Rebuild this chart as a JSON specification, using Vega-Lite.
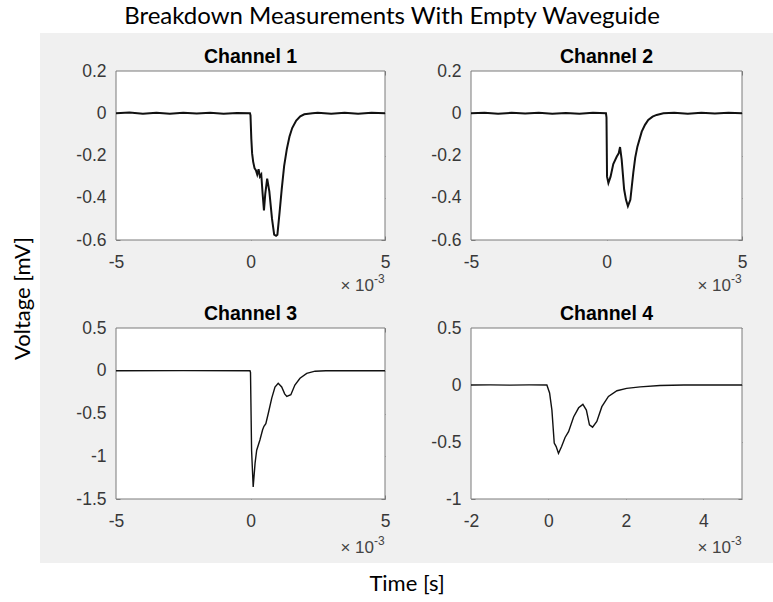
{
  "$schema": "https://vega.github.io/schema/vega-lite/v6.json",
  "width": 733,
  "height": 530,
  "autosize": {"type": "none"},
  "padding": {"left": 40, "top": 33, "right": 0, "bottom": 39},
  "background": "white",
  "view": {"fill": "#f0f0f0", "stroke": null},
  "title": {"text": "Breakdown Measurements With Empty Waveguide", "font": "Lato", "fontSize": 24, "fontWeight": "normal", "color": "#000000", "anchor": "middle", "frame": "bounds", "offset": 4},
  "config": {
    "axis": {"grid": false, "domain": false, "labelFont": "Liberation Sans", "labelFontSize": 17.5, "labelColor": "#383838", "tickColor": "#7a7a7a", "tickSize": -4, "tickWidth": 1, "labelFlush": false, "labelOverlap": false, "zindex": 1, "labelExpr": "'' + datum.value"}
  },
  "datasets": {
    "panels": [
      {"panel": "Channel 1", "xmin": -5, "xmax": 5, "ymin": -0.6, "ymax": 0.2, "mult": "× 10", "pow": "-3"},
      {"panel": "Channel 2", "xmin": -5, "xmax": 5, "ymin": -0.6, "ymax": 0.2, "mult": "× 10", "pow": "-3"},
      {"panel": "Channel 3", "xmin": -5, "xmax": 5, "ymin": -1.5, "ymax": 0.5, "mult": "× 10", "pow": "-3"},
      {"panel": "Channel 4", "xmin": -2, "xmax": 5, "ymin": -1, "ymax": 0.5, "mult": "× 10", "pow": "-3"}
    ],
    "signals": [
      {"ch": "Channel 1", "t": -5, "v": 0}, {"ch": "Channel 1", "t": -4.5, "v": 0.003}, {"ch": "Channel 1", "t": -4, "v": -0.002}, {"ch": "Channel 1", "t": -3.5, "v": 0.002}, {"ch": "Channel 1", "t": -3, "v": -0.002}, {"ch": "Channel 1", "t": -2.5, "v": 0.002}, {"ch": "Channel 1", "t": -2, "v": -0.001}, {"ch": "Channel 1", "t": -1.5, "v": 0.002}, {"ch": "Channel 1", "t": -1, "v": -0.002}, {"ch": "Channel 1", "t": -0.5, "v": 0.001}, {"ch": "Channel 1", "t": -0.02, "v": 0}, {"ch": "Channel 1", "t": 0, "v": -0.01}, {"ch": "Channel 1", "t": 0.03, "v": -0.12}, {"ch": "Channel 1", "t": 0.06, "v": -0.19}, {"ch": "Channel 1", "t": 0.1, "v": -0.23}, {"ch": "Channel 1", "t": 0.15, "v": -0.26}, {"ch": "Channel 1", "t": 0.2, "v": -0.27}, {"ch": "Channel 1", "t": 0.25, "v": -0.29}, {"ch": "Channel 1", "t": 0.3, "v": -0.265}, {"ch": "Channel 1", "t": 0.35, "v": -0.3}, {"ch": "Channel 1", "t": 0.4, "v": -0.29}, {"ch": "Channel 1", "t": 0.45, "v": -0.38}, {"ch": "Channel 1", "t": 0.5, "v": -0.46}, {"ch": "Channel 1", "t": 0.55, "v": -0.38}, {"ch": "Channel 1", "t": 0.62, "v": -0.31}, {"ch": "Channel 1", "t": 0.7, "v": -0.37}, {"ch": "Channel 1", "t": 0.8, "v": -0.5}, {"ch": "Channel 1", "t": 0.88, "v": -0.575}, {"ch": "Channel 1", "t": 0.95, "v": -0.58}, {"ch": "Channel 1", "t": 1.0, "v": -0.575}, {"ch": "Channel 1", "t": 1.08, "v": -0.47}, {"ch": "Channel 1", "t": 1.16, "v": -0.36}, {"ch": "Channel 1", "t": 1.25, "v": -0.25}, {"ch": "Channel 1", "t": 1.35, "v": -0.17}, {"ch": "Channel 1", "t": 1.45, "v": -0.11}, {"ch": "Channel 1", "t": 1.55, "v": -0.07}, {"ch": "Channel 1", "t": 1.7, "v": -0.035}, {"ch": "Channel 1", "t": 1.85, "v": -0.015}, {"ch": "Channel 1", "t": 2.0, "v": -0.005}, {"ch": "Channel 1", "t": 2.3, "v": 0}, {"ch": "Channel 1", "t": 2.5, "v": 0.002}, {"ch": "Channel 1", "t": 3, "v": -0.002}, {"ch": "Channel 1", "t": 3.5, "v": 0.002}, {"ch": "Channel 1", "t": 4, "v": -0.002}, {"ch": "Channel 1", "t": 4.5, "v": 0.002}, {"ch": "Channel 1", "t": 5, "v": 0},
      {"ch": "Channel 2", "t": -5, "v": 0}, {"ch": "Channel 2", "t": -4.5, "v": 0.002}, {"ch": "Channel 2", "t": -4, "v": -0.002}, {"ch": "Channel 2", "t": -3.5, "v": 0.002}, {"ch": "Channel 2", "t": -3, "v": -0.001}, {"ch": "Channel 2", "t": -2.5, "v": 0.002}, {"ch": "Channel 2", "t": -2, "v": -0.002}, {"ch": "Channel 2", "t": -1.5, "v": 0.001}, {"ch": "Channel 2", "t": -1, "v": -0.002}, {"ch": "Channel 2", "t": -0.5, "v": 0.002}, {"ch": "Channel 2", "t": -0.02, "v": 0}, {"ch": "Channel 2", "t": 0, "v": -0.02}, {"ch": "Channel 2", "t": 0.02, "v": -0.3}, {"ch": "Channel 2", "t": 0.07, "v": -0.33}, {"ch": "Channel 2", "t": 0.15, "v": -0.3}, {"ch": "Channel 2", "t": 0.25, "v": -0.24}, {"ch": "Channel 2", "t": 0.38, "v": -0.205}, {"ch": "Channel 2", "t": 0.45, "v": -0.19}, {"ch": "Channel 2", "t": 0.5, "v": -0.16}, {"ch": "Channel 2", "t": 0.56, "v": -0.22}, {"ch": "Channel 2", "t": 0.65, "v": -0.36}, {"ch": "Channel 2", "t": 0.72, "v": -0.41}, {"ch": "Channel 2", "t": 0.79, "v": -0.44}, {"ch": "Channel 2", "t": 0.88, "v": -0.41}, {"ch": "Channel 2", "t": 0.99, "v": -0.28}, {"ch": "Channel 2", "t": 1.06, "v": -0.21}, {"ch": "Channel 2", "t": 1.14, "v": -0.158}, {"ch": "Channel 2", "t": 1.3, "v": -0.087}, {"ch": "Channel 2", "t": 1.42, "v": -0.055}, {"ch": "Channel 2", "t": 1.54, "v": -0.032}, {"ch": "Channel 2", "t": 1.7, "v": -0.016}, {"ch": "Channel 2", "t": 1.85, "v": -0.008}, {"ch": "Channel 2", "t": 2.1, "v": 0}, {"ch": "Channel 2", "t": 2.5, "v": 0.002}, {"ch": "Channel 2", "t": 3, "v": -0.002}, {"ch": "Channel 2", "t": 3.5, "v": 0.002}, {"ch": "Channel 2", "t": 4, "v": -0.001}, {"ch": "Channel 2", "t": 4.5, "v": 0.002}, {"ch": "Channel 2", "t": 5, "v": 0},
      {"ch": "Channel 3", "t": -5, "v": 0}, {"ch": "Channel 3", "t": -2.5, "v": 0.001}, {"ch": "Channel 3", "t": -0.02, "v": 0}, {"ch": "Channel 3", "t": 0, "v": -0.02}, {"ch": "Channel 3", "t": 0.04, "v": -0.93}, {"ch": "Channel 3", "t": 0.1, "v": -1.36}, {"ch": "Channel 3", "t": 0.17, "v": -1.08}, {"ch": "Channel 3", "t": 0.23, "v": -0.93}, {"ch": "Channel 3", "t": 0.35, "v": -0.81}, {"ch": "Channel 3", "t": 0.45, "v": -0.69}, {"ch": "Channel 3", "t": 0.5, "v": -0.65}, {"ch": "Channel 3", "t": 0.57, "v": -0.62}, {"ch": "Channel 3", "t": 0.66, "v": -0.5}, {"ch": "Channel 3", "t": 0.79, "v": -0.32}, {"ch": "Channel 3", "t": 0.91, "v": -0.19}, {"ch": "Channel 3", "t": 1.03, "v": -0.147}, {"ch": "Channel 3", "t": 1.16, "v": -0.19}, {"ch": "Channel 3", "t": 1.27, "v": -0.27}, {"ch": "Channel 3", "t": 1.35, "v": -0.3}, {"ch": "Channel 3", "t": 1.5, "v": -0.28}, {"ch": "Channel 3", "t": 1.65, "v": -0.167}, {"ch": "Channel 3", "t": 1.84, "v": -0.088}, {"ch": "Channel 3", "t": 2.09, "v": -0.03}, {"ch": "Channel 3", "t": 2.4, "v": -0.005}, {"ch": "Channel 3", "t": 2.8, "v": 0}, {"ch": "Channel 3", "t": 5, "v": 0},
      {"ch": "Channel 4", "t": -2, "v": 0}, {"ch": "Channel 4", "t": -1.5, "v": 0.001}, {"ch": "Channel 4", "t": -1, "v": -0.001}, {"ch": "Channel 4", "t": -0.5, "v": 0.001}, {"ch": "Channel 4", "t": -0.04, "v": 0}, {"ch": "Channel 4", "t": 0.03, "v": -0.07}, {"ch": "Channel 4", "t": 0.09, "v": -0.22}, {"ch": "Channel 4", "t": 0.15, "v": -0.51}, {"ch": "Channel 4", "t": 0.2, "v": -0.54}, {"ch": "Channel 4", "t": 0.26, "v": -0.6}, {"ch": "Channel 4", "t": 0.34, "v": -0.54}, {"ch": "Channel 4", "t": 0.43, "v": -0.46}, {"ch": "Channel 4", "t": 0.52, "v": -0.41}, {"ch": "Channel 4", "t": 0.65, "v": -0.28}, {"ch": "Channel 4", "t": 0.78, "v": -0.2}, {"ch": "Channel 4", "t": 0.89, "v": -0.17}, {"ch": "Channel 4", "t": 0.98, "v": -0.22}, {"ch": "Channel 4", "t": 1.06, "v": -0.35}, {"ch": "Channel 4", "t": 1.14, "v": -0.37}, {"ch": "Channel 4", "t": 1.25, "v": -0.32}, {"ch": "Channel 4", "t": 1.38, "v": -0.19}, {"ch": "Channel 4", "t": 1.55, "v": -0.1}, {"ch": "Channel 4", "t": 1.77, "v": -0.05}, {"ch": "Channel 4", "t": 2.02, "v": -0.03}, {"ch": "Channel 4", "t": 2.37, "v": -0.016}, {"ch": "Channel 4", "t": 2.88, "v": -0.005}, {"ch": "Channel 4", "t": 3.5, "v": 0}, {"ch": "Channel 4", "t": 5, "v": 0}
    ]
  },
  "layer": [
    {
      "data": {"values": [{"note": "frame"}]},
      "mark": {"type": "point", "opacity": 0},
      "encoding": {
        "x": {"datum": 0.5, "type": "quantitative", "scale": {"domain": [0, 1]}, "axis": {"orient": "bottom", "title": "Time [s]", "labels": false, "ticks": false, "domain": false, "titleFont": "Lato", "titleFontSize": 22, "titleFontWeight": "normal", "titleColor": "#000000", "titlePadding": 10}},
        "y": {"datum": 0.5, "type": "quantitative", "scale": {"domain": [0, 1]}, "axis": {"orient": "left", "title": "Voltage [mV]", "labels": false, "ticks": false, "domain": false, "titleFont": "Lato", "titleFontSize": 22, "titleFontWeight": "normal", "titleColor": "#000000", "titlePadding": 6}}
      }
    },
    {
      "layer": [
        {
          "data": {"name": "panels"},
          "transform": [{"filter": "datum.panel === 'Channel 1'"}],
          "mark": {"type": "rect", "fill": "white", "stroke": "#7a7a7a", "strokeWidth": 1},
          "encoding": {
            "x": {"field": "xmin", "type": "quantitative", "scale": {"domain": [-5, 5], "range": [76, 345], "nice": false, "zero": false}, "axis": {"orient": "bottom", "offset": -323, "values": [-5, 0, 5], "title": null, "labelPadding": 17}},
            "x2": {"field": "xmax"},
            "y": {"field": "ymin", "type": "quantitative", "scale": {"domain": [-0.6, 0.2], "range": [207, 38], "nice": false, "zero": false}, "axis": {"orient": "left", "offset": -76, "values": [-0.6, -0.4, -0.2, 0, 0.2], "title": null, "labelPadding": 14}},
            "y2": {"field": "ymax"}
          }
        },
        {
          "data": {"name": "signals"},
          "transform": [{"filter": "datum.ch === 'Channel 1'"}],
          "mark": {"type": "line", "color": "#111111", "strokeWidth": 2},
          "encoding": {
            "x": {"field": "t", "type": "quantitative", "scale": {"domain": [-5, 5], "range": [76, 345], "nice": false, "zero": false}, "axis": {"orient": "top", "offset": -38, "values": [-5, 0, 5], "title": null, "labels": false}},
            "y": {"field": "v", "type": "quantitative", "scale": {"domain": [-0.6, 0.2], "range": [207, 38], "nice": false, "zero": false}, "axis": {"orient": "right", "offset": -388, "values": [-0.6, -0.4, -0.2, 0, 0.2], "title": null, "labels": false}}
          }
        },
        {
          "data": {"name": "panels"},
          "transform": [{"filter": "datum.panel === 'Channel 1'"}],
          "mark": {"type": "text", "font": "Liberation Sans", "fontWeight": "bold", "fontSize": 19.5, "color": "#000000", "baseline": "middle", "dy": -14},
          "encoding": {
            "x": {"datum": 0, "type": "quantitative", "scale": {"domain": [-5, 5], "range": [76, 345], "nice": false, "zero": false}, "axis": null},
            "y": {"field": "ymax", "type": "quantitative", "scale": {"domain": [-0.6, 0.2], "range": [207, 38], "nice": false, "zero": false}, "axis": null},
            "text": {"field": "panel"}
          }
        },
        {
          "data": {"name": "panels"},
          "transform": [{"filter": "datum.panel === 'Channel 1'"}],
          "mark": {"type": "text", "font": "Liberation Sans", "fontSize": 17, "color": "#444444", "baseline": "middle", "align": "right", "dx": -11, "dy": 46},
          "encoding": {
            "x": {"field": "xmax", "type": "quantitative", "scale": {"domain": [-5, 5], "range": [76, 345], "nice": false, "zero": false}, "axis": null},
            "y": {"field": "ymin", "type": "quantitative", "scale": {"domain": [-0.6, 0.2], "range": [207, 38], "nice": false, "zero": false}, "axis": null},
            "text": {"field": "mult"}
          }
        },
        {
          "data": {"name": "panels"},
          "transform": [{"filter": "datum.panel === 'Channel 1'"}],
          "mark": {"type": "text", "font": "Liberation Sans", "fontSize": 12, "color": "#444444", "baseline": "middle", "align": "left", "dx": -11, "dy": 39},
          "encoding": {
            "x": {"field": "xmax", "type": "quantitative", "scale": {"domain": [-5, 5], "range": [76, 345], "nice": false, "zero": false}, "axis": null},
            "y": {"field": "ymin", "type": "quantitative", "scale": {"domain": [-0.6, 0.2], "range": [207, 38], "nice": false, "zero": false}, "axis": null},
            "text": {"field": "pow"}
          }
        }
      ],
      "resolve": {"axis": {"x": "independent", "y": "independent"}}
    },
    {
      "layer": [
        {
          "data": {"name": "panels"},
          "transform": [{"filter": "datum.panel === 'Channel 2'"}],
          "mark": {"type": "rect", "fill": "white", "stroke": "#7a7a7a", "strokeWidth": 1},
          "encoding": {
            "x": {"field": "xmin", "type": "quantitative", "scale": {"domain": [-5, 5], "range": [431, 702], "nice": false, "zero": false}, "axis": {"orient": "bottom", "offset": -323, "values": [-5, 0, 5], "title": null, "labelPadding": 17}},
            "x2": {"field": "xmax"},
            "y": {"field": "ymin", "type": "quantitative", "scale": {"domain": [-0.6, 0.2], "range": [207, 38], "nice": false, "zero": false}, "axis": {"orient": "left", "offset": -431, "values": [-0.6, -0.4, -0.2, 0, 0.2], "title": null, "labelPadding": 14}},
            "y2": {"field": "ymax"}
          }
        },
        {
          "data": {"name": "signals"},
          "transform": [{"filter": "datum.ch === 'Channel 2'"}],
          "mark": {"type": "line", "color": "#111111", "strokeWidth": 2},
          "encoding": {
            "x": {"field": "t", "type": "quantitative", "scale": {"domain": [-5, 5], "range": [431, 702], "nice": false, "zero": false}, "axis": {"orient": "top", "offset": -38, "values": [-5, 0, 5], "title": null, "labels": false}},
            "y": {"field": "v", "type": "quantitative", "scale": {"domain": [-0.6, 0.2], "range": [207, 38], "nice": false, "zero": false}, "axis": {"orient": "right", "offset": -31, "values": [-0.6, -0.4, -0.2, 0, 0.2], "title": null, "labels": false}}
          }
        },
        {
          "data": {"name": "panels"},
          "transform": [{"filter": "datum.panel === 'Channel 2'"}],
          "mark": {"type": "text", "font": "Liberation Sans", "fontWeight": "bold", "fontSize": 19.5, "color": "#000000", "baseline": "middle", "dy": -14},
          "encoding": {
            "x": {"datum": 0, "type": "quantitative", "scale": {"domain": [-5, 5], "range": [431, 702], "nice": false, "zero": false}, "axis": null},
            "y": {"field": "ymax", "type": "quantitative", "scale": {"domain": [-0.6, 0.2], "range": [207, 38], "nice": false, "zero": false}, "axis": null},
            "text": {"field": "panel"}
          }
        },
        {
          "data": {"name": "panels"},
          "transform": [{"filter": "datum.panel === 'Channel 2'"}],
          "mark": {"type": "text", "font": "Liberation Sans", "fontSize": 17, "color": "#444444", "baseline": "middle", "align": "right", "dx": -11, "dy": 46},
          "encoding": {
            "x": {"field": "xmax", "type": "quantitative", "scale": {"domain": [-5, 5], "range": [431, 702], "nice": false, "zero": false}, "axis": null},
            "y": {"field": "ymin", "type": "quantitative", "scale": {"domain": [-0.6, 0.2], "range": [207, 38], "nice": false, "zero": false}, "axis": null},
            "text": {"field": "mult"}
          }
        },
        {
          "data": {"name": "panels"},
          "transform": [{"filter": "datum.panel === 'Channel 2'"}],
          "mark": {"type": "text", "font": "Liberation Sans", "fontSize": 12, "color": "#444444", "baseline": "middle", "align": "left", "dx": -11, "dy": 39},
          "encoding": {
            "x": {"field": "xmax", "type": "quantitative", "scale": {"domain": [-5, 5], "range": [431, 702], "nice": false, "zero": false}, "axis": null},
            "y": {"field": "ymin", "type": "quantitative", "scale": {"domain": [-0.6, 0.2], "range": [207, 38], "nice": false, "zero": false}, "axis": null},
            "text": {"field": "pow"}
          }
        }
      ],
      "resolve": {"axis": {"x": "independent", "y": "independent"}}
    },
    {
      "layer": [
        {
          "data": {"name": "panels"},
          "transform": [{"filter": "datum.panel === 'Channel 3'"}],
          "mark": {"type": "rect", "fill": "white", "stroke": "#7a7a7a", "strokeWidth": 1},
          "encoding": {
            "x": {"field": "xmin", "type": "quantitative", "scale": {"domain": [-5, 5], "range": [76, 345], "nice": false, "zero": false}, "axis": {"orient": "bottom", "offset": -64, "values": [-5, 0, 5], "title": null, "labelPadding": 17}},
            "x2": {"field": "xmax"},
            "y": {"field": "ymin", "type": "quantitative", "scale": {"domain": [-1.5, 0.5], "range": [466, 295], "nice": false, "zero": false}, "axis": {"orient": "left", "offset": -76, "values": [-1.5, -1, -0.5, 0, 0.5], "title": null, "labelPadding": 14}},
            "y2": {"field": "ymax"}
          }
        },
        {
          "data": {"name": "signals"},
          "transform": [{"filter": "datum.ch === 'Channel 3'"}],
          "mark": {"type": "line", "color": "#111111", "strokeWidth": 1.4},
          "encoding": {
            "x": {"field": "t", "type": "quantitative", "scale": {"domain": [-5, 5], "range": [76, 345], "nice": false, "zero": false}, "axis": {"orient": "top", "offset": -295, "values": [-5, 0, 5], "title": null, "labels": false}},
            "y": {"field": "v", "type": "quantitative", "scale": {"domain": [-1.5, 0.5], "range": [466, 295], "nice": false, "zero": false}, "axis": {"orient": "right", "offset": -388, "values": [-1.5, -1, -0.5, 0, 0.5], "title": null, "labels": false}}
          }
        },
        {
          "data": {"name": "panels"},
          "transform": [{"filter": "datum.panel === 'Channel 3'"}],
          "mark": {"type": "text", "font": "Liberation Sans", "fontWeight": "bold", "fontSize": 19.5, "color": "#000000", "baseline": "middle", "dy": -14},
          "encoding": {
            "x": {"datum": 0, "type": "quantitative", "scale": {"domain": [-5, 5], "range": [76, 345], "nice": false, "zero": false}, "axis": null},
            "y": {"field": "ymax", "type": "quantitative", "scale": {"domain": [-1.5, 0.5], "range": [466, 295], "nice": false, "zero": false}, "axis": null},
            "text": {"field": "panel"}
          }
        },
        {
          "data": {"name": "panels"},
          "transform": [{"filter": "datum.panel === 'Channel 3'"}],
          "mark": {"type": "text", "font": "Liberation Sans", "fontSize": 17, "color": "#444444", "baseline": "middle", "align": "right", "dx": -11, "dy": 49},
          "encoding": {
            "x": {"field": "xmax", "type": "quantitative", "scale": {"domain": [-5, 5], "range": [76, 345], "nice": false, "zero": false}, "axis": null},
            "y": {"field": "ymin", "type": "quantitative", "scale": {"domain": [-1.5, 0.5], "range": [466, 295], "nice": false, "zero": false}, "axis": null},
            "text": {"field": "mult"}
          }
        },
        {
          "data": {"name": "panels"},
          "transform": [{"filter": "datum.panel === 'Channel 3'"}],
          "mark": {"type": "text", "font": "Liberation Sans", "fontSize": 12, "color": "#444444", "baseline": "middle", "align": "left", "dx": -11, "dy": 42},
          "encoding": {
            "x": {"field": "xmax", "type": "quantitative", "scale": {"domain": [-5, 5], "range": [76, 345], "nice": false, "zero": false}, "axis": null},
            "y": {"field": "ymin", "type": "quantitative", "scale": {"domain": [-1.5, 0.5], "range": [466, 295], "nice": false, "zero": false}, "axis": null},
            "text": {"field": "pow"}
          }
        }
      ],
      "resolve": {"axis": {"x": "independent", "y": "independent"}}
    },
    {
      "layer": [
        {
          "data": {"name": "panels"},
          "transform": [{"filter": "datum.panel === 'Channel 4'"}],
          "mark": {"type": "rect", "fill": "white", "stroke": "#7a7a7a", "strokeWidth": 1},
          "encoding": {
            "x": {"field": "xmin", "type": "quantitative", "scale": {"domain": [-2, 5], "range": [431, 702], "nice": false, "zero": false}, "axis": {"orient": "bottom", "offset": -64, "values": [-2, 0, 2, 4], "title": null, "labelPadding": 17}},
            "x2": {"field": "xmax"},
            "y": {"field": "ymin", "type": "quantitative", "scale": {"domain": [-1, 0.5], "range": [466, 295], "nice": false, "zero": false}, "axis": {"orient": "left", "offset": -431, "values": [-1, -0.5, 0, 0.5], "title": null, "labelPadding": 14}},
            "y2": {"field": "ymax"}
          }
        },
        {
          "data": {"name": "signals"},
          "transform": [{"filter": "datum.ch === 'Channel 4'"}],
          "mark": {"type": "line", "color": "#111111", "strokeWidth": 1.4},
          "encoding": {
            "x": {"field": "t", "type": "quantitative", "scale": {"domain": [-2, 5], "range": [431, 702], "nice": false, "zero": false}, "axis": {"orient": "top", "offset": -295, "values": [-2, 0, 2, 4], "title": null, "labels": false}},
            "y": {"field": "v", "type": "quantitative", "scale": {"domain": [-1, 0.5], "range": [466, 295], "nice": false, "zero": false}, "axis": {"orient": "right", "offset": -31, "values": [-1, -0.5, 0, 0.5], "title": null, "labels": false}}
          }
        },
        {
          "data": {"name": "panels"},
          "transform": [{"filter": "datum.panel === 'Channel 4'"}],
          "mark": {"type": "text", "font": "Liberation Sans", "fontWeight": "bold", "fontSize": 19.5, "color": "#000000", "baseline": "middle", "dy": -14},
          "encoding": {
            "x": {"datum": 1.5, "type": "quantitative", "scale": {"domain": [-2, 5], "range": [431, 702], "nice": false, "zero": false}, "axis": null},
            "y": {"field": "ymax", "type": "quantitative", "scale": {"domain": [-1, 0.5], "range": [466, 295], "nice": false, "zero": false}, "axis": null},
            "text": {"field": "panel"}
          }
        },
        {
          "data": {"name": "panels"},
          "transform": [{"filter": "datum.panel === 'Channel 4'"}],
          "mark": {"type": "text", "font": "Liberation Sans", "fontSize": 17, "color": "#444444", "baseline": "middle", "align": "right", "dx": -11, "dy": 49},
          "encoding": {
            "x": {"field": "xmax", "type": "quantitative", "scale": {"domain": [-2, 5], "range": [431, 702], "nice": false, "zero": false}, "axis": null},
            "y": {"field": "ymin", "type": "quantitative", "scale": {"domain": [-1, 0.5], "range": [466, 295], "nice": false, "zero": false}, "axis": null},
            "text": {"field": "mult"}
          }
        },
        {
          "data": {"name": "panels"},
          "transform": [{"filter": "datum.panel === 'Channel 4'"}],
          "mark": {"type": "text", "font": "Liberation Sans", "fontSize": 12, "color": "#444444", "baseline": "middle", "align": "left", "dx": -11, "dy": 42},
          "encoding": {
            "x": {"field": "xmax", "type": "quantitative", "scale": {"domain": [-2, 5], "range": [431, 702], "nice": false, "zero": false}, "axis": null},
            "y": {"field": "ymin", "type": "quantitative", "scale": {"domain": [-1, 0.5], "range": [466, 295], "nice": false, "zero": false}, "axis": null},
            "text": {"field": "pow"}
          }
        }
      ],
      "resolve": {"axis": {"x": "independent", "y": "independent"}}
    }
  ],
  "resolve": {"scale": {"x": "independent", "y": "independent"}, "axis": {"x": "independent", "y": "independent"}}
}
